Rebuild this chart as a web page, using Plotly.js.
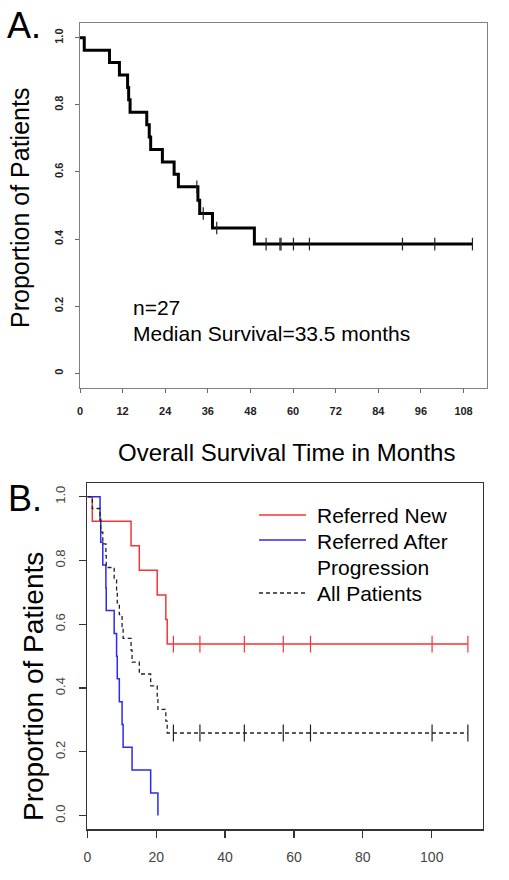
<!DOCTYPE html>
<html>
<head>
<meta charset="utf-8">
<script src="https://cdn.plot.ly/plotly-3.0.1.min.js"></script>
<style>html,body{margin:0;padding:0;background:#fff;}#chart{width:509px;height:880px;}</style>
</head>
<body>
<div id="chart"></div>
<script>
// ---- Panel A: overall survival (n=27) ----
var aTime = [0, 1.2, 8.3, 11.1, 13.4, 13.7, 14.1, 18.8, 19.5, 19.9, 23.2, 26.5, 27.7, 33.2, 33.7, 37.3, 49.1, 110.5];
var aSurv = [1, 0.963, 0.926, 0.889, 0.852, 0.815, 0.778, 0.741, 0.704, 0.667, 0.630, 0.593, 0.556, 0.516, 0.476, 0.433, 0.385, 0.385];
var aCensorTime = [32.9, 34.7, 38.5, 52.4, 56.3, 56.6, 60.1, 64.6, 90.8, 99.9, 110.5];
var aCensorSurv = [0.556, 0.476, 0.433, 0.385, 0.385, 0.385, 0.385, 0.385, 0.385, 0.385, 0.385];
var aXTicks = [0, 12, 24, 36, 48, 60, 72, 84, 96, 108];
var aYTicks = [0, 0.2, 0.4, 0.6, 0.8, 1.0];
var aYTickText = ['0', '0.2', '0.4', '0.6', '0.8', '1.0'];

// ---- Panel B: by referral group ----
var newTime = [0, 1.45, 12.7, 15.1, 20.3, 22.8, 23.2, 110.5];
var newSurv = [1, 0.923, 0.846, 0.769, 0.692, 0.615, 0.538, 0.538];
var newCensorTime = [25.0, 32.7, 45.6, 56.9, 64.8, 100.1, 110.5];
var newCensorSurv = [0.538, 0.538, 0.538, 0.538, 0.538, 0.538, 0.538];

var progTime = [0, 3.7, 3.9, 4.5, 5.4, 5.5, 7.8, 8.5, 8.7, 9.3, 10.1, 10.4, 13.0, 18.4, 20.5];
var progSurv = [1, 0.929, 0.857, 0.786, 0.714, 0.643, 0.571, 0.5, 0.429, 0.357, 0.286, 0.214, 0.143, 0.071, 0];

var allTime = [0, 1.45, 3.7, 3.9, 4.5, 5.4, 5.5, 7.8, 8.5, 8.7, 9.3, 10.1, 10.4, 12.7, 13.0, 15.1, 18.4, 20.3, 20.5, 22.8, 23.2, 110.5];
var allSurv = [1, 0.963, 0.926, 0.889, 0.852, 0.815, 0.778, 0.741, 0.704, 0.667, 0.630, 0.593, 0.556, 0.519, 0.481, 0.444, 0.407, 0.370, 0.333, 0.296, 0.259, 0.259];
var allCensorTime = [25.0, 32.7, 45.6, 56.9, 64.8, 100.1, 110.5];
var allCensorSurv = [0.259, 0.259, 0.259, 0.259, 0.259, 0.259, 0.259];

var bXTicks = [0, 20, 40, 60, 80, 100];
var bYTicks = [0, 0.2, 0.4, 0.6, 0.8, 1.0];
var bYTickText = ['0.0', '0.2', '0.4', '0.6', '0.8', '1.0'];

var legendLabels = ['Referred New', 'Referred After', 'Progression', 'All Patients'];

var W = 509, H = 880;
function px(x) { return x / W; }
function py(y) { return 1 - y / H; }

var FONT = 'Liberation Sans, Arial, Helvetica, sans-serif';
var RED = '#f53535', BLUE = '#2a2af0', BLACK = '#222';

function censorMarker(color, size) {
  return {symbol: 'line-ns-open', size: size, color: color, line: {color: color, width: 1.2}};
}

var traces = [
  {x: aTime, y: aSurv, type: 'scatter', mode: 'lines', line: {shape: 'hv', color: '#000', width: 3}, xaxis: 'x', yaxis: 'y'},
  {x: aCensorTime, y: aCensorSurv, type: 'scatter', mode: 'markers', marker: censorMarker('#222', 9), xaxis: 'x', yaxis: 'y'},

  {x: newTime, y: newSurv, type: 'scatter', mode: 'lines', line: {shape: 'hv', color: RED, width: 1.5}, xaxis: 'x2', yaxis: 'y2'},
  {x: newCensorTime, y: newCensorSurv, type: 'scatter', mode: 'markers', marker: censorMarker(RED, 12), xaxis: 'x2', yaxis: 'y2'},
  {x: progTime, y: progSurv, type: 'scatter', mode: 'lines', line: {shape: 'hv', color: BLUE, width: 1.5}, xaxis: 'x2', yaxis: 'y2'},
  {x: allTime, y: allSurv, type: 'scatter', mode: 'lines', line: {shape: 'hv', color: BLACK, width: 1.3, dash: '4px,3px'}, xaxis: 'x2', yaxis: 'y2'},
  {x: allCensorTime, y: allCensorSurv, type: 'scatter', mode: 'markers', marker: censorMarker(BLACK, 12), xaxis: 'x2', yaxis: 'y2'}
];

var layout = {
  width: W, height: H,
  margin: {l: 0, r: 0, t: 0, b: 0},
  paper_bgcolor: '#fff', plot_bgcolor: '#fff',
  showlegend: false,
  font: {family: FONT, color: '#000'},
  xaxis: {
    domain: [px(80), px(487)], anchor: 'y',
    range: [0, 114.6], tickvals: aXTicks, ticktext: aXTicks.map(String),
    ticks: 'outside', ticklen: 4, tickcolor: '#666', tickwidth: 1,
    showline: true, mirror: true, linecolor: '#808080', linewidth: 1.2,
    showgrid: false, zeroline: false,
    tickfont: {family: FONT, size: 11, color: '#222', weight: 'bold'},
    ticklabelstandoff: 9
  },
  yaxis: {
    domain: [py(388), py(23)], anchor: 'x',
    range: [-0.044, 1.044], tickvals: aYTicks, ticktext: aYTickText,
    tickangle: -90,
    ticks: 'outside', ticklen: 4, tickcolor: '#666', tickwidth: 1,
    showline: true, mirror: true, linecolor: '#808080', linewidth: 1.2,
    showgrid: false, zeroline: false,
    tickfont: {family: FONT, size: 11, color: '#222', weight: 'bold'},
    ticklabelstandoff: 7
  },
  xaxis2: {
    domain: [px(87.3), px(482.7)], anchor: 'y2',
    range: [0, 114.8], tickvals: bXTicks, ticktext: bXTicks.map(String),
    ticks: 'outside', ticklen: 7, tickcolor: '#333', tickwidth: 1.2,
    showline: true, mirror: true, linecolor: '#333', linewidth: 1.5,
    showgrid: false, zeroline: false,
    tickfont: {family: FONT, size: 14, color: '#444'},
    ticklabelstandoff: 8
  },
  yaxis2: {
    domain: [py(829), py(483.3)], anchor: 'x2',
    range: [-0.042, 1.042], tickvals: bYTicks, ticktext: bYTickText,
    tickangle: -90,
    ticks: 'outside', ticklen: 7, tickcolor: '#333', tickwidth: 1.2,
    showline: true, mirror: true, linecolor: '#333', linewidth: 1.5,
    showgrid: false, zeroline: false,
    tickfont: {family: FONT, size: 13, color: '#444'},
    ticklabelstandoff: 9
  },
  shapes: [
    {type: 'line', xref: 'paper', yref: 'paper', x0: px(259), x1: px(306), y0: py(515), y1: py(515), line: {color: RED, width: 1.5}},
    {type: 'line', xref: 'paper', yref: 'paper', x0: px(259), x1: px(306), y0: py(540), y1: py(540), line: {color: BLUE, width: 1.5}},
    {type: 'line', xref: 'paper', yref: 'paper', x0: px(259), x1: px(306), y0: py(593), y1: py(593), line: {color: BLACK, width: 1.3, dash: '4px,3px'}}
  ],
  annotations: [
    {text: 'A.', xref: 'paper', yref: 'paper', x: px(5), y: py(25), xanchor: 'left', yanchor: 'middle', showarrow: false, font: {family: FONT, size: 36, color: '#000'}},
    {text: 'B.', xref: 'paper', yref: 'paper', x: px(6), y: py(498), xanchor: 'left', yanchor: 'middle', showarrow: false, font: {family: FONT, size: 36, color: '#000'}},
    {text: 'Proportion of Patients', xref: 'paper', yref: 'paper', x: px(20), y: py(208), xanchor: 'center', yanchor: 'middle', textangle: -90, showarrow: false, font: {family: FONT, size: 25, color: '#000'}},
    {text: 'Proportion of Patients', xref: 'paper', yref: 'paper', x: px(33), y: py(687), xanchor: 'center', yanchor: 'middle', textangle: -90, showarrow: false, font: {family: FONT, size: 28, color: '#000'}},
    {text: 'Overall Survival Time in Months', xref: 'paper', yref: 'paper', x: px(286), y: py(452), xanchor: 'center', yanchor: 'middle', showarrow: false, font: {family: FONT, size: 24, color: '#000'}},
    {text: 'n=27', xref: 'paper', yref: 'paper', x: px(131), y: py(307), xanchor: 'left', yanchor: 'middle', showarrow: false, font: {family: FONT, size: 21, color: '#000'}},
    {text: 'Median Survival=33.5 months', xref: 'paper', yref: 'paper', x: px(131), y: py(333), xanchor: 'left', yanchor: 'middle', showarrow: false, font: {family: FONT, size: 21, color: '#000'}},
    {text: legendLabels[0], xref: 'paper', yref: 'paper', x: px(315), y: py(515), xanchor: 'left', yanchor: 'middle', showarrow: false, font: {family: FONT, size: 21, color: '#000'}},
    {text: legendLabels[1], xref: 'paper', yref: 'paper', x: px(315), y: py(541), xanchor: 'left', yanchor: 'middle', showarrow: false, font: {family: FONT, size: 21, color: '#000'}},
    {text: legendLabels[2], xref: 'paper', yref: 'paper', x: px(315), y: py(567), xanchor: 'left', yanchor: 'middle', showarrow: false, font: {family: FONT, size: 21, color: '#000'}},
    {text: legendLabels[3], xref: 'paper', yref: 'paper', x: px(315), y: py(593), xanchor: 'left', yanchor: 'middle', showarrow: false, font: {family: FONT, size: 21, color: '#000'}}
  ]
};

Plotly.newPlot('chart', traces, layout, {displayModeBar: false, staticPlot: true});
</script>
</body>
</html>
